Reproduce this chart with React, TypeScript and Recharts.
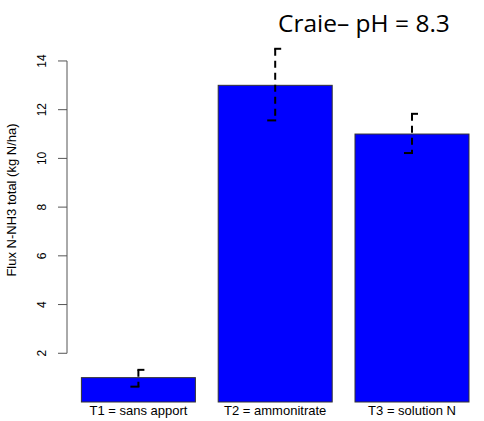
import React from "react";
import { BarChart, Bar, XAxis, YAxis } from "recharts";

const categories = ["T1 = sans apport", "T2 = ammonitrate", "T3 = solution N"];
const flux = [1.0, 13.0, 11.0];
const errLow = [0.63, 11.56, 10.22];
const errHigh = [1.32, 14.5, 11.83];
const yTicks = [2, 4, 6, 8, 10, 12, 14];

const W = 484;
const H = 421;
const PLOT_TOP = 36.6;
const X_AXIS_H = 19;
const PLOT_BOTTOM = H - X_AXIS_H;
const Y_MAX = 15;
const AXIS_X = 67;
const PPU = (PLOT_BOTTOM - PLOT_TOP) / Y_MAX;

const data = categories.map((name, i) => ({
  name,
  flux: flux[i],
  lo: errLow[i],
  hi: errHigh[i],
}));

// bar rect + dashed error bar (R arrows style: cap right on top, cap left at bottom)
function BarWithError(props: any) {
  const { x, y, width, height, payload } = props;
  const base = y + height;
  const ppu = height / payload.flux;
  const cx = x + width / 2;
  const yHi = base - payload.hi * ppu;
  const yLo = base - payload.lo * ppu;
  return (
    <g>
      <rect x={x} y={y} width={width} height={height} fill="#0000FF" stroke="#333" strokeWidth={1} />
      <line x1={cx} x2={cx} y1={yHi} y2={yLo} stroke="#000" strokeWidth={2} strokeDasharray="7 5" />
      <line x1={cx - 1} x2={cx + 6} y1={yHi} y2={yHi} stroke="#000" strokeWidth={2} />
      <line x1={cx - 8} x2={cx + 1} y1={yLo} y2={yLo} stroke="#000" strokeWidth={2} />
    </g>
  );
}

function YTick(props: any) {
  const { y, payload } = props;
  const v = payload.value;
  return (
    <g>
      <line x1={AXIS_X - 9} x2={AXIS_X} y1={y} y2={y} stroke="#555" />
      {v === yTicks[0] && (
        <line
          x1={AXIS_X}
          x2={AXIS_X}
          y1={y}
          y2={y - (yTicks[yTicks.length - 1] - yTicks[0]) * PPU}
          stroke="#555"
        />
      )}
      <text
        x={46}
        y={y}
        transform={`rotate(-90, 46, ${y})`}
        textAnchor="middle"
        fontSize={12}
        fontFamily="Liberation Sans, Arial, sans-serif"
        fill="#000"
      >
        {v}
      </text>
    </g>
  );
}

function XTick(props: any) {
  const { x, payload } = props;
  return (
    <text
      x={x}
      y={PLOT_BOTTOM + 13}
      textAnchor="middle"
      fontSize={13}
      fontFamily="Liberation Sans, Arial, sans-serif"
      fill="#000"
    >
      {payload.value}
    </text>
  );
}

export default function App() {
  return (
    <div style={{ position: "absolute", left: 0, top: 0, width: W, height: H, background: "#fff" }}>
      <BarChart
        width={W}
        height={H}
        data={data}
        margin={{ top: PLOT_TOP, right: 3.6, bottom: 0, left: 0 }}
        barCategoryGap="8.33%"
      >
        <XAxis
          dataKey="name"
          height={X_AXIS_H}
          axisLine={false}
          tickLine={false}
          padding={{ left: 3, right: 0 }}
          tick={<XTick />}
          interval={0}
        />
        <YAxis
          width={AXIS_X}
          domain={[0, Y_MAX]}
          ticks={yTicks}
          axisLine={false}
          tickLine={false}
          tick={<YTick />}
          interval={0}
        />
        <Bar dataKey="flux" shape={<BarWithError />} isAnimationActive={false} />
      </BarChart>
      <svg width={40} height={H} style={{ position: "absolute", left: 0, top: 0 }}>
        <text
          x={16}
          y={200}
          transform="rotate(-90, 16, 200)"
          textAnchor="middle"
          fontSize={13}
          fontFamily="Liberation Sans, Arial, sans-serif"
          fill="#000"
        >
          Flux N-NH3 total (kg N/ha)
        </text>
      </svg>
      <div
        style={{
          position: "absolute",
          left: 278,
          top: 8,
          fontFamily: "Open Sans, sans-serif",
          fontSize: 24.5,
          lineHeight: "30px",
          color: "#000",
          whiteSpace: "nowrap",
        }}
      >
        Craie– pH = 8.3
      </div>
    </div>
  );
}
